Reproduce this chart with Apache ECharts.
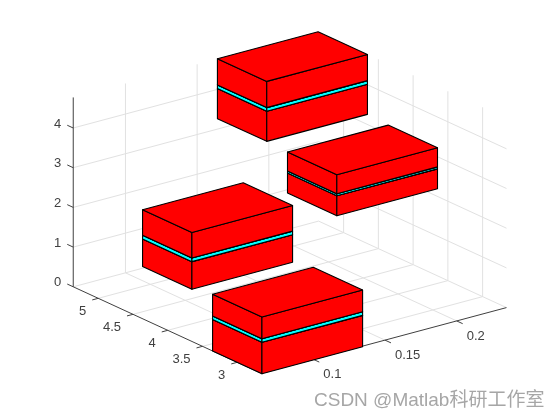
<!DOCTYPE html>
<html><head><meta charset="utf-8">
<style>html,body{margin:0;padding:0;background:#fff}#c{width:560px;height:420px}</style>
<script src="https://cdn.jsdelivr.net/npm/echarts@6/dist/echarts.min.js"></script>
</head><body><div id="c"></div>
<script>
// tick labels
var xTicks = [0.1, 0.15, 0.2];
var yTicks = [3, 3.5, 4, 4.5, 5];
var zTicks = [0, 1, 2, 3, 4];
var xLim = [0.0636, 0.2347];
var yLim = [2.657, 5.36];
var zLim = [0, 4.77];
// box layers: x start, y centre, z bottom, z top, colour index
var boxX = [0.0636, 0.0636, 0.0636, 0.1117, 0.1117, 0.1117, 0.1643, 0.1643, 0.1643, 0.1639, 0.1639, 0.1639];
var boxY = [3, 3, 3, 5, 5, 5, 4, 4, 4, 5, 5, 5];
var boxZ0 = [0, 0.79, 0.88, 0.05, 0.745, 0.835, 2.2, 2.7, 2.75, 3.27, 4.03, 4.12];
var boxZ1 = [0.79, 0.88, 1.43, 0.745, 0.835, 1.48, 2.7, 2.75, 3.23, 4.03, 4.12, 4.78];
var boxC = [0, 1, 0, 0, 1, 0, 0, 1, 0, 0, 1, 0];
var boxWidthX = 0.0702;
var boxHalfY = 0.355;
var colors = ['#ff0000', '#00ffff'];
// view: pixels of axes corner (xmin,ymin,0) and per-unit pixel steps (orthographic MATLAB view)
var view = {ox: 261.1, oy: 373.3, xx: 1434, xy: -384, yx: -69.5, yy: -32, zy: -39.7};

function project(x, y, z) {
  var dx = x - xLim[0], dy = y - yLim[0];
  return [view.ox + view.xx * dx + view.yx * dy, view.oy + view.xy * dx + view.yy * dy + view.zy * z];
}

// frame segments: [x1,y1,z1,x2,y2,z2,kind] kind 0 grid, 1 axis
var segs = [];
function seg(a, b, k) { segs.push(a.concat(b, [k])); }
var tkY = 0.086, tkX = 0.0042;
xTicks.forEach(function (t) {
  seg([t, yLim[0], 0], [t, yLim[1], 0], 0);
  seg([t, yLim[1], 0], [t, yLim[1], zLim[1]], 0);
});
yTicks.forEach(function (t) {
  seg([xLim[0], t, 0], [xLim[1], t, 0], 0);
  seg([xLim[1], t, 0], [xLim[1], t, zLim[1]], 0);
});
zTicks.forEach(function (t) {
  seg([xLim[0], yLim[1], t], [xLim[1], yLim[1], t], 0);
  seg([xLim[1], yLim[0], t], [xLim[1], yLim[1], t], 0);
});
seg([xLim[0], yLim[0], 0], [xLim[1], yLim[0], 0], 1);
seg([xLim[0], yLim[0], 0], [xLim[0], yLim[1], 0], 1);
seg([xLim[0], yLim[1], 0], [xLim[0], yLim[1], zLim[1]], 1);
xTicks.forEach(function (t) { seg([t, yLim[0], 0], [t, yLim[0] - tkY, 0], 1); });
yTicks.forEach(function (t) { seg([xLim[0], t, 0], [xLim[0] - tkX, t, 0], 1); });
zTicks.forEach(function (t) { seg([xLim[0], yLim[1], t], [xLim[0], yLim[1] + tkY, t], 1); });

// tick label anchors: [x,y,z,text,kind]
var labels = [];
xTicks.forEach(function (t) { labels.push([t, yLim[0], 0, String(t), 0]); });
yTicks.forEach(function (t) { labels.push([xLim[0], t, 0, String(t), 1]); });
zTicks.forEach(function (t) { labels.push([xLim[0], yLim[1], t, String(t), 2]); });

var boxes = boxX.map(function (x, i) {
  return [x, x + boxWidthX, boxY[i] - boxHalfY, boxY[i] + boxHalfY, boxZ0[i], boxZ1[i], boxC[i]];
});

var chart = echarts.init(document.getElementById('c'), null, {renderer: 'canvas'});
var font = '"Liberation Sans", Arial, sans-serif';
function pt(api, p) { return api.coord(p); }

chart.setOption({
  animation: false,
  backgroundColor: '#fff',
  grid: {left: 0, right: 0, top: 0, bottom: 0},
  xAxis: {type: 'value', min: 0, max: 560, show: false},
  yAxis: {type: 'value', min: 0, max: 420, inverse: true, show: false},
  series: [
    {
      type: 'custom', coordinateSystem: 'cartesian2d', clip: false, silent: true, z: 1,
      data: segs, encode: {x: 0, y: 1},
      renderItem: function (p, api) {
        var a = pt(api, project(api.value(0), api.value(1), api.value(2)));
        var b = pt(api, project(api.value(3), api.value(4), api.value(5)));
        var k = api.value(6);
        return {type: 'line', shape: {x1: a[0], y1: a[1], x2: b[0], y2: b[1]},
          z2: k, style: {stroke: k ? '#404040' : '#e1e1e1', lineWidth: 1, fill: null}};
      }
    },
    {
      type: 'custom', coordinateSystem: 'cartesian2d', clip: false, silent: true, z: 2,
      data: labels, encode: {x: 0, y: 1},
      renderItem: function (p, api) {
        var a = pt(api, project(api.value(0), api.value(1), api.value(2)));
        var k = api.value(4), d = labels[p.dataIndex];
        var off = k === 0 ? [10, 15] : k === 1 ? [-12, 13] : [-12, -4];
        return {type: 'text', x: a[0] + off[0], y: a[1] + off[1],
          style: {text: d[3], fill: '#404040', font: '13px ' + font,
            textAlign: k === 0 ? 'left' : 'right', textVerticalAlign: 'middle'}};
      }
    },
    {
      type: 'custom', coordinateSystem: 'cartesian2d', clip: false, silent: true, z: 3,
      data: boxes, encode: {x: 0, y: 2},
      renderItem: function (p, api) {
        var x0 = api.value(0), x1 = api.value(1), y0 = api.value(2), y1 = api.value(3),
            z0 = api.value(4), z1 = api.value(5), c = colors[api.value(6)];
        function P(x, y, z) { return pt(api, project(x, y, z)); }
        function face(points) {
          return {type: 'polygon', shape: {points: points},
            style: {fill: c, stroke: '#000', lineWidth: 1.1, lineJoin: 'round'}};
        }
        return {type: 'group', children: [
          face([P(x0, y0, z0), P(x0, y1, z0), P(x0, y1, z1), P(x0, y0, z1)]),
          face([P(x0, y0, z0), P(x1, y0, z0), P(x1, y0, z1), P(x0, y0, z1)]),
          face([P(x0, y0, z1), P(x1, y0, z1), P(x1, y1, z1), P(x0, y1, z1)])
        ]};
      }
    }
  ],
  graphic: [{
    type: 'text', left: 314, top: 391, z: 100, silent: true,
    style: {text: 'CSDN @Matlab科研工作室', fill: '#a6a6a6', font: '19px "Liberation Sans", "Noto Sans CJK SC", sans-serif'}
  }]
});
</script></body></html>
